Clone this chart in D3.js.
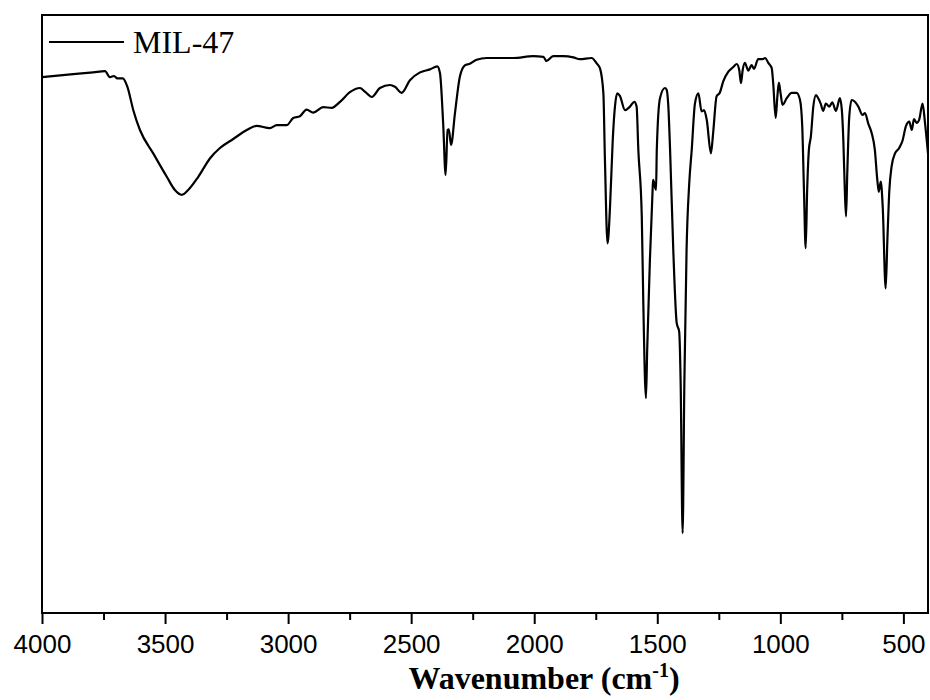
<!DOCTYPE html>
<html>
<head>
<meta charset="utf-8">
<script src="https://cdn.jsdelivr.net/npm/d3@7"></script>
<style>
  body { margin: 0; background: #fff; }
</style>
</head>
<body>
<svg id="chart" width="930" height="700"></svg>
<script>
// FTIR spectrum of MIL-47
const wavenumber = [
  4000, 3873, 3792, 3744, 3724, 3707, 3694, 3672, 3653, 3629, 3602, 3548, 3493, 3460, 3432, 3406,
  3365, 3317, 3277, 3223, 3168, 3128, 3074, 3046, 3006, 2979, 2952, 2925, 2898, 2857, 2823, 2789,
  2749, 2708, 2688, 2660, 2627, 2586, 2566, 2539, 2505, 2464, 2424, 2394, 2383, 2370, 2360, 2352,
  2347, 2338, 2322, 2302, 2281, 2264, 2234, 2193, 2085, 2004, 1963, 1950, 1923, 1882, 1841, 1814,
  1767, 1746, 1733, 1719, 1713, 1702, 1692, 1681, 1672, 1663, 1652, 1631, 1611, 1593, 1584, 1577,
  1563, 1557, 1546, 1541, 1530, 1519, 1517, 1505, 1502, 1489, 1469, 1462, 1455, 1448, 1435, 1421,
  1411, 1405, 1397, 1390, 1381, 1370, 1360, 1347, 1333, 1320, 1310, 1299, 1282, 1273, 1259, 1246,
  1232, 1212, 1191, 1177, 1167, 1160, 1153, 1144, 1130, 1117, 1107, 1090, 1072, 1062, 1049, 1035,
  1029, 1019, 1012, 1006, 999, 991, 974, 954, 934, 920, 911, 904, 897, 891, 884, 876,
  866, 855, 846, 836, 826, 815, 801, 789, 774, 758, 750, 744, 738, 733, 728, 720,
  710, 697, 683, 666, 656, 643, 629, 616, 606, 600, 592, 584, 572, 565, 557, 548,
  534, 517, 503, 490, 476, 466, 457, 446, 436, 422, 412, 400
];
const transmittance = [
  89.3, 89.8, 90.1, 90.3, 89.3, 89.5, 89.1, 89.1, 87.7, 83.8, 80.5, 76.6, 72.7, 70.5, 69.7, 70.5,
  72.7, 75.8, 77.5, 79.0, 80.5, 81.2, 80.8, 81.3, 81.3, 82.5, 82.8, 83.9, 83.4, 84.3, 84.2, 85.2,
  86.8, 87.5, 86.9, 86.0, 87.5, 88.0, 87.7, 86.7, 88.8, 90.1, 90.6, 91.1, 90.0, 81.6, 73.0, 80.5,
  80.6, 78.0, 83.3, 89.4, 91.3, 91.5, 92.2, 92.5, 92.5, 92.8, 92.7, 92.0, 92.8, 92.8, 92.6, 92.3,
  92.5, 91.6, 90.8, 86.6, 76.1, 61.6, 67.7, 78.8, 84.4, 86.6, 86.2, 83.8, 84.4, 85.2, 84.4, 77.2,
  66.1, 52.2, 35.8, 43.8, 58.8, 70.5, 72.2, 70.5, 77.2, 85.8, 87.5, 87.2, 84.4, 77.2, 60.5, 48.3,
  46.9, 38.3, 13.3, 38.3, 60.5, 71.7, 77.2, 84.9, 86.6, 83.6, 83.8, 82.2, 76.6, 80.0, 86.1, 86.7,
  88.6, 90.2, 91.0, 91.5, 90.5, 88.3, 90.5, 91.7, 90.4, 91.3, 90.7, 92.3, 92.3, 92.5, 91.7, 90.8,
  88.3, 82.5, 86.1, 88.4, 86.6, 84.7, 85.8, 86.7, 86.7, 85.5, 81.1, 70.5, 60.8, 70.5, 77.2, 79.4,
  84.4, 86.3, 85.8, 84.9, 83.7, 84.9, 84.4, 85.1, 83.7, 85.8, 83.8, 78.8, 70.5, 66.1, 73.3, 82.7,
  85.5, 85.2, 84.4, 83.0, 83.3, 81.6, 80.0, 77.2, 72.2, 70.2, 71.9, 67.7, 54.1, 62.2, 70.5, 74.4,
  76.6, 77.5, 78.8, 81.1, 81.9, 80.5, 82.3, 81.7, 82.2, 84.9, 81.6, 76.6
];
const majorTicks = [4000, 3500, 3000, 2500, 2000, 1500, 1000, 500];
const minorTicks = [3750, 3250, 2750, 2250, 1750, 1250, 750];
const seriesName = "MIL-47";

const points = wavenumber.map((w, i) => ({ w: w, t: transmittance[i] }));

const svg = d3.select("#chart");

const plotLeft = 42, plotRight = 928, plotTop = 15, plotBottom = 613;

const x = d3.scaleLinear()
    .domain([4000, 400])
    .range([plotLeft, plotRight]);

const y = d3.scaleLinear()
    .domain([0, 100])
    .range([plotBottom, plotBottom - 600]);

const line = d3.line()
    .x(d => x(d.w))
    .y(d => y(d.t))
    .curve(d3.curveMonotoneX);

// spectrum
svg.append("path")
    .datum(points)
    .attr("fill", "none")
    .attr("stroke", "#000")
    .attr("stroke-width", 2.2)
    .attr("stroke-linejoin", "round")
    .attr("d", line);

// minor ticks
svg.append("g")
    .attr("transform", `translate(0,${plotBottom})`)
    .call(d3.axisBottom(x).tickValues(minorTicks).tickSize(7).tickSizeOuter(0).tickFormat(""))
    .call(g => g.select(".domain").remove())
    .selectAll("line").attr("stroke-width", 2);

// major ticks + labels
const xAxis = svg.append("g")
    .attr("transform", `translate(0,${plotBottom})`)
    .call(d3.axisBottom(x).tickValues(majorTicks).tickSize(11).tickSizeOuter(0)
        .tickPadding(11).tickFormat(d3.format("d")))
    .call(g => g.select(".domain").remove());
xAxis.selectAll("line").attr("stroke-width", 2);
xAxis.selectAll("text")
    .attr("fill", "#000")
    .style("font-family", "'Liberation Sans', Arial, sans-serif")
    .style("font-size", "26px");

// frame
svg.append("rect")
    .attr("x", plotLeft)
    .attr("y", plotTop)
    .attr("width", plotRight - plotLeft)
    .attr("height", plotBottom - plotTop)
    .attr("fill", "none")
    .attr("stroke", "#000")
    .attr("stroke-width", 2);

// axis title
const title = svg.append("text")
    .attr("x", 544)
    .attr("y", 689)
    .attr("text-anchor", "middle")
    .style("font-family", "'Liberation Serif', 'Times New Roman', serif")
    .style("font-weight", "bold")
    .style("font-size", "32px");
title.append("tspan").text("Wavenumber (cm");
title.append("tspan").attr("dy", -12).style("font-size", "20px").text("-1");
title.append("tspan").attr("dy", 12).text(")");

// legend
svg.append("line")
    .attr("x1", 49).attr("x2", 124)
    .attr("y1", 42).attr("y2", 42)
    .attr("stroke", "#000")
    .attr("stroke-width", 2);
svg.append("text")
    .attr("x", 133)
    .attr("y", 53)
    .style("font-family", "'Liberation Serif', 'Times New Roman', serif")
    .style("font-size", "32px")
    .text(seriesName);
</script>
</body>
</html>
